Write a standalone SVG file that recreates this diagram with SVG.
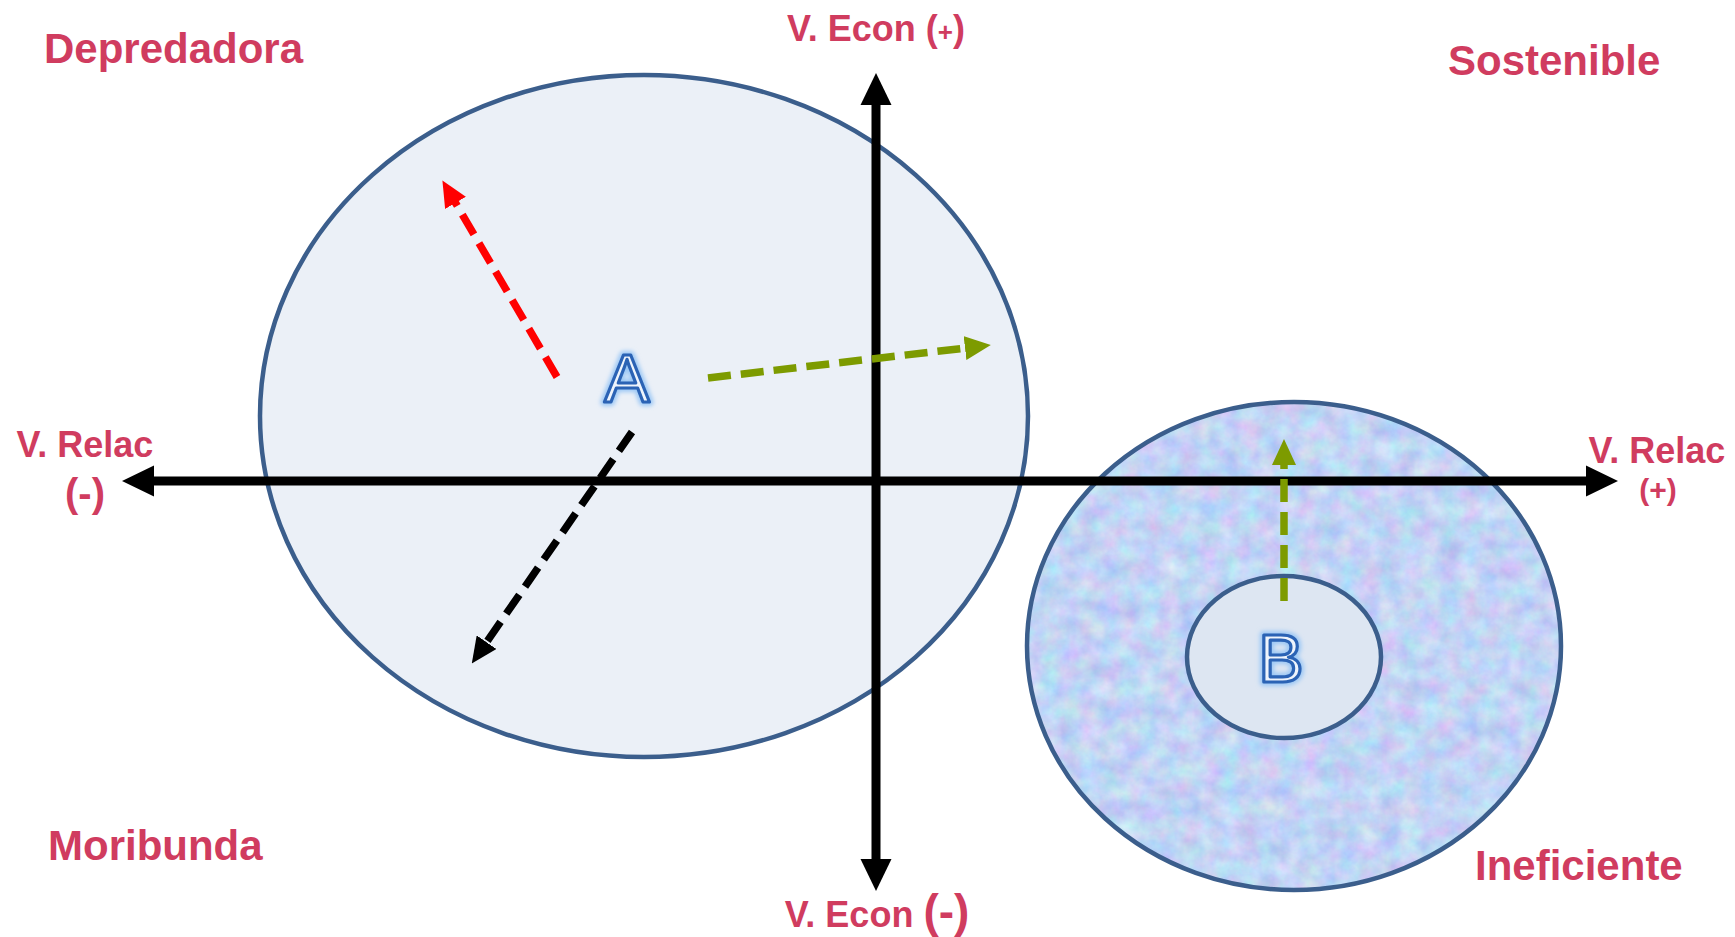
<svg xmlns="http://www.w3.org/2000/svg" width="1735" height="937" viewBox="0 0 1735 937">
<style>
.lbl{font-family:"Liberation Sans",Arial,sans-serif;font-weight:bold;fill:#d03c5f}
.ell{stroke:#3b5e8c;stroke-width:4.5}
.axis{stroke:#000;stroke-width:9;fill:none}
.dash{stroke-width:7.5;stroke-dasharray:23 10;fill:none}
.letter{font-family:"Liberation Sans",Arial,sans-serif;font-size:68px;text-anchor:middle}
.glow{fill:none;stroke:#9cc8f5;stroke-width:8;stroke-linejoin:round}
.face{fill:#eef4fc;stroke:#2b63b5;stroke-width:3.2;stroke-linejoin:round}
</style>
<defs>
<filter id="blur" x="-20%" y="-20%" width="140%" height="140%"><feGaussianBlur stdDeviation="2"/></filter>
<filter id="tex" x="0" y="0" width="100%" height="100%" color-interpolation-filters="sRGB">
<feTurbulence type="fractalNoise" baseFrequency="0.05" numOctaves="4" seed="3" result="n"/>
<feColorMatrix in="n" type="matrix" values="0.3 0 0 0 0.61  0 0.26 0 0 0.7  0 0 0.1 0 0.91  0 0 0 0 1" result="c"/>
<feComposite in="c" in2="SourceGraphic" operator="in"/>
</filter>
<marker id="mRed" viewBox="0 0 26 24" refX="1" refY="12" markerWidth="26" markerHeight="24" markerUnits="userSpaceOnUse" orient="auto"><path d="M0,0 L26,12 L0,24 z" fill="#ff0000"/></marker>
<marker id="mGreen" viewBox="0 0 26 24" refX="1" refY="12" markerWidth="26" markerHeight="24" markerUnits="userSpaceOnUse" orient="auto"><path d="M0,0 L26,12 L0,24 z" fill="#7d9b00"/></marker>
<marker id="mBlack" viewBox="0 0 26 24" refX="1" refY="12" markerWidth="26" markerHeight="24" markerUnits="userSpaceOnUse" orient="auto"><path d="M0,0 L26,12 L0,24 z" fill="#000"/></marker>
</defs>
<rect width="1735" height="937" fill="#fff"/>

<g id="nodeA">
<ellipse class="ell" cx="644" cy="416" rx="384" ry="341" fill="#ebf0f7"/>
<text class="letter glow" x="627" y="402" filter="url(#blur)">A</text>
<text class="letter face" x="627" y="402">A</text>
</g>

<g id="nodeB">
<ellipse cx="1294" cy="646" rx="267" ry="244" fill="#b9cdee"/>
<ellipse cx="1294" cy="646" rx="267" ry="244" fill="#000" filter="url(#tex)"/>
<ellipse class="ell" cx="1294" cy="646" rx="267" ry="244" fill="none"/>
<ellipse class="ell" cx="1284" cy="657" rx="97" ry="81" fill="#dde6f2"/>
<text class="letter glow" x="1281" y="682" filter="url(#blur)">B</text>
<text class="letter face" x="1281" y="682">B</text>
</g>

<g id="connectors">
<line class="axis" x1="152" y1="481" x2="1588" y2="481"/>
<polygon points="122,481 154,465.5 154,496.5" fill="#000"/>
<polygon points="1618,481 1586,465.5 1586,496.5" fill="#000"/>
<line class="axis" x1="876" y1="103" x2="876" y2="861"/>
<polygon points="876,73 860.5,105 891.5,105" fill="#000"/>
<polygon points="876,891 860.5,859 891.5,859" fill="#000"/>
<path class="dash" d="M557,377 L455,202" stroke="#ff0000" marker-end="url(#mRed)"/>
<path class="dash" d="M708,378 L966,348" stroke="#7d9b00" marker-end="url(#mGreen)"/>
<path class="dash" d="M632,432 L486,643" stroke="#000" marker-end="url(#mBlack)"/>
<path class="dash" d="M1284,601 L1284,464" stroke="#7d9b00" marker-end="url(#mGreen)"/>
</g>

<g id="labels">
<text class="lbl" x="44" y="63" font-size="42">Depredadora</text>
<text class="lbl" x="1448" y="75" font-size="42">Sostenible</text>
<text class="lbl" x="48" y="860" font-size="42">Moribunda</text>
<text class="lbl" x="1475" y="880" font-size="42">Ineficiente</text>
<text class="lbl" x="876" y="41" font-size="36" text-anchor="middle">V. Econ (<tspan font-size="26">+</tspan>)</text>
<text class="lbl" x="877" y="927" font-size="36" text-anchor="middle">V. Econ <tspan font-size="46">(-)</tspan></text>
<text class="lbl" x="85" y="457" font-size="36" text-anchor="middle">V. Relac</text>
<text class="lbl" x="85" y="507" font-size="40" text-anchor="middle">(-)</text>
<text class="lbl" x="1657" y="463" font-size="36" text-anchor="middle">V. Relac</text>
<text class="lbl" x="1658" y="500" font-size="30" text-anchor="middle">(+)</text>
</g>
</svg>
